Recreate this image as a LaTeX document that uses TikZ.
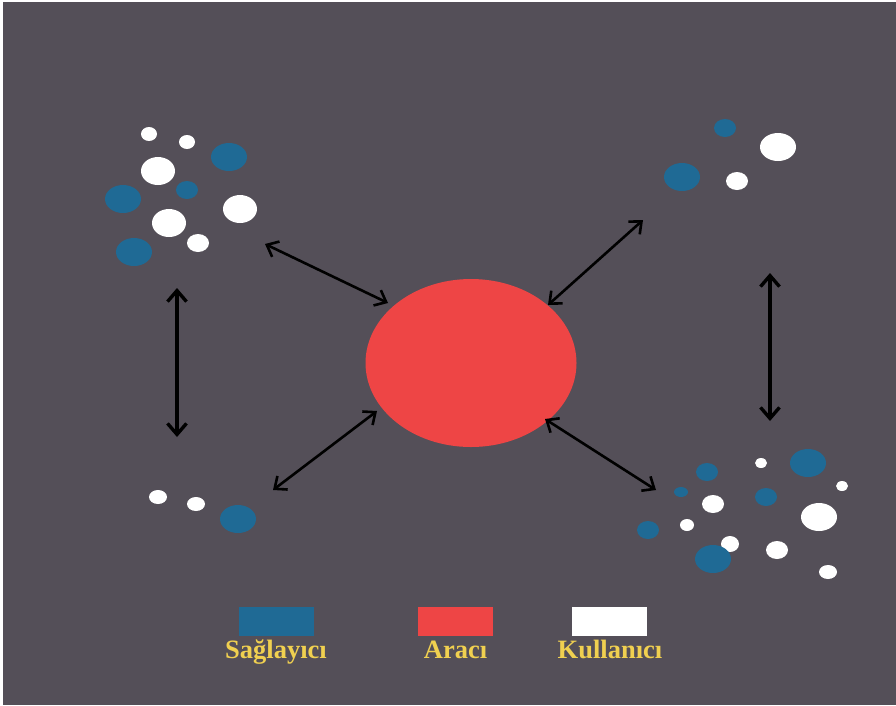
\documentclass[tikz,border=0pt]{standalone}
\usepackage{fontspec}
\setmainfont{Liberation Serif}
\usetikzlibrary{arrows.meta,shapes.geometric}
\definecolor{bgpanel}{RGB}{84,79,88}
\definecolor{provblue}{RGB}{31,106,149}
\definecolor{brokred}{RGB}{238,69,69}
\definecolor{labelgold}{RGB}{240,208,80}
\tikzset{
  prov/.style={fill=provblue,draw=none},
  user/.style={fill=white,draw=none},
  link/.style={black,line width=2.6pt,{Straight Barb[length=10pt,width=17pt]}-{Straight Barb[length=10pt,width=17pt]}},
  vlink/.style={black,line width=3.4pt,{Straight Barb[length=11pt,width=19pt]}-{Straight Barb[length=11pt,width=19pt]}},
  swatch/.style={minimum width=75pt,minimum height=29pt,inner sep=0pt,draw=none},
  legendtext/.style={text=labelgold,font=\bfseries\fontsize{26.5}{28}\selectfont,inner sep=0pt,anchor=base}
}
% one coloured dot: style, x, y, x radius, y radius
\newcommand{\blob}[5]{\fill[#1] (#2,#3) ellipse [x radius=#4pt, y radius=#5pt];}
\begin{document}
\begin{tikzpicture}[x=1pt,y=-1pt]
% page and dark panel
\fill[white] (0,0) rectangle (896,705);
\fill[bgpanel] (3,2) rectangle (896,705);
\useasboundingbox (0,0) rectangle (896,705);

% central broker
\node[ellipse,fill=brokred,minimum width=211pt,minimum height=168pt,inner sep=0pt] (broker) at (471,363) {};

% cluster: upper left
\blob{user}{149}{134}{8}{7}
\blob{user}{187}{142}{8}{7}
\blob{prov}{229}{157}{18}{14}
\blob{user}{158}{171}{17}{14}
\blob{prov}{123}{199}{18}{14}
\blob{prov}{187}{190}{11}{9}
\blob{user}{240}{209}{17}{14}
\blob{user}{169}{223}{17}{14}
\blob{user}{198}{243}{11}{9}
\blob{prov}{134}{252}{18}{14}

% cluster: upper right
\blob{prov}{725}{128}{11}{9}
\blob{user}{778}{147}{18}{14}
\blob{prov}{682}{177}{18}{14}
\blob{user}{737}{181}{11}{9}

% cluster: lower left
\blob{user}{158}{497}{9}{7}
\blob{user}{196}{504}{9}{7}
\blob{prov}{238}{519}{18}{14}

% cluster: lower right
\blob{prov}{707}{472}{11}{9}
\blob{user}{761}{463}{6}{5}
\blob{prov}{808}{463}{18}{14}
\blob{user}{842}{486}{6}{5}
\blob{prov}{681}{492}{7}{5}
\blob{user}{713}{504}{11}{9}
\blob{prov}{766}{497}{11}{9}
\blob{user}{819}{517}{18}{14}
\blob{prov}{648}{530}{11}{9}
\blob{user}{687}{525}{7}{6}
\blob{user}{730}{544}{9}{8}
\blob{prov}{713}{559}{18}{14}
\blob{user}{777}{550}{11}{9}
\blob{user}{828}{572}{9}{7}

% connector end points
\coordinate (ulA) at (265,244);
\coordinate (ulB) at (388,303);
\coordinate (urA) at (643,220);
\coordinate (urB) at (548,305);
\coordinate (llA) at (273,490);
\coordinate (llB) at (377,411);
\coordinate (lrA) at (545,419);
\coordinate (lrB) at (656,490);
\coordinate (lvA) at (177,288);
\coordinate (lvB) at (177,437);
\coordinate (rvA) at (770,273);
\coordinate (rvB) at (770,421);

\draw[link] (ulA) -- (ulB);
\draw[link] (urA) -- (urB);
\draw[link] (llA) -- (llB);
\draw[link] (lrA) -- (lrB);
\draw[vlink] (lvA) -- (lvB);
\draw[vlink] (rvA) -- (rvB);

% legend
\node[swatch,fill=provblue] (kprov) at (276,621.5) {};
\node[swatch,fill=brokred] (kbrok) at (455.5,621.5) {};
\node[swatch,fill=white] (kuser) at (609.5,621.5) {};
\node[legendtext] (tprov) at (276,658) {Sağlayıcı};
\node[legendtext] (tbrok) at (455.5,658) {Aracı};
\node[legendtext] (tuser) at (610,658) {Kullanıcı};
\end{tikzpicture}
\end{document}
